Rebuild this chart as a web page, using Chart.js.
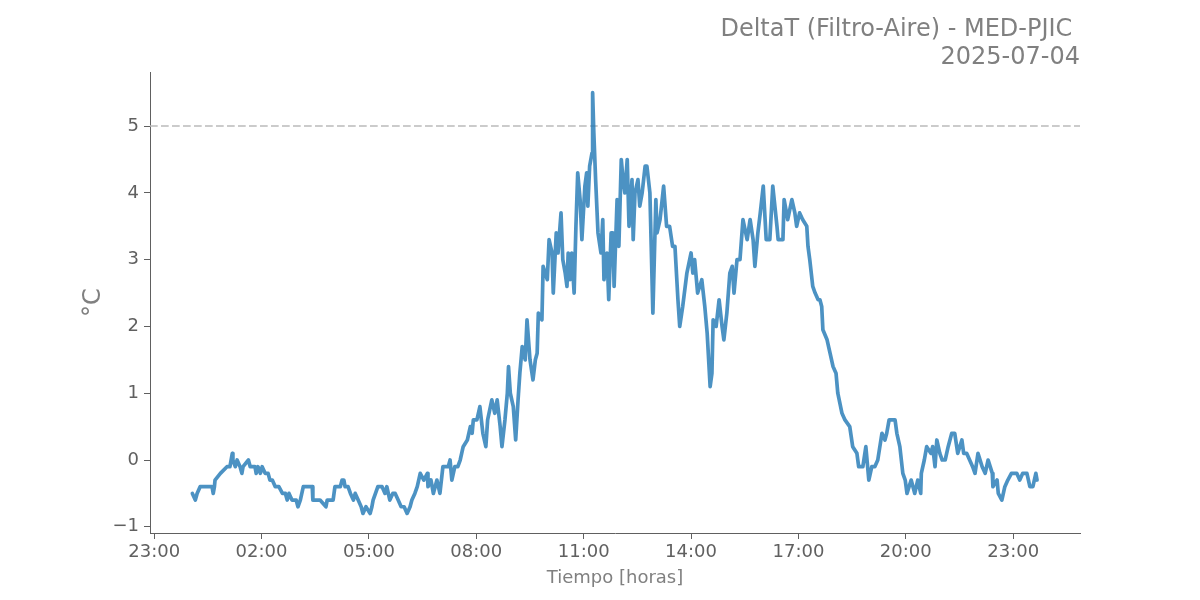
<!DOCTYPE html>
<html>
<head>
<meta charset="utf-8">
<script src="https://cdn.jsdelivr.net/npm/chart.js@4/dist/chart.umd.min.js"></script>
<style>
  html, body { margin: 0; padding: 0; background: #ffffff; }
  #wrap { width: 1200px; height: 600px; position: relative; }
</style>
</head>
<body>
<div id="wrap"><canvas id="c" width="1200" height="600"></canvas></div>
<script>
// ---- Data (minutes since midnight of 2025-07-04, DeltaT in °C) ----
const minutes = [
  4, 9, 12, 17, 37, 39, 41, 42, 51, 62, 67, 71, 72, 76, 79, 84, 87, 89, 98, 101,
  109, 111, 114, 118, 121, 126, 131, 134, 138, 143, 149, 155, 160, 163, 166, 171, 178, 181, 185, 190,
  196, 205, 206, 218, 228, 230, 240, 243, 252, 255, 258, 260, 265, 269, 274, 277, 282, 287, 290, 295,
  302, 305, 307, 315, 322, 327, 330, 335, 340, 344, 349, 354, 359, 364, 369, 372, 377, 381, 386, 392,
  398, 399, 404, 408, 414, 419, 424, 433, 436, 439, 444, 449, 453, 458, 465, 470, 473, 475, 481, 486,
  491, 496, 499, 506, 511, 515, 520, 523, 528, 532, 534, 537, 542, 546, 550, 553, 557, 562, 565, 570,
  575, 579, 582, 584, 590, 592, 599, 602, 607, 609, 614, 617, 622, 625, 629, 632, 634, 637, 640, 644,
  647, 650, 654, 657, 662, 665, 667, 670, 674, 675, 677, 680, 684, 689, 692, 694, 699, 702, 706, 709,
  711, 716, 719, 723, 726, 729, 733, 736, 741, 743, 746, 751, 754, 758, 763, 766, 771, 776, 781, 783,
  788, 794, 799, 804, 809, 813, 818, 821, 826, 833, 840, 843, 846, 851, 858, 863, 867, 872, 875, 877,
  882, 887, 892, 895, 900, 905, 909, 912, 917, 922, 927, 934, 939, 944, 947, 952, 956, 961, 966, 972,
  977, 984, 986, 994, 996, 1002, 1009, 1014, 1017, 1022, 1027, 1034, 1036, 1039, 1044, 1048, 1053, 1056, 1059, 1061,
  1068, 1073, 1078, 1083, 1086, 1093, 1098, 1106, 1111, 1118, 1121, 1128, 1133, 1138, 1143, 1148, 1153, 1160, 1165, 1168,
  1172, 1182, 1185, 1190, 1195, 1199, 1202, 1209, 1215, 1220, 1225, 1226, 1231, 1235, 1242, 1245, 1249, 1252, 1257, 1261,
  1266, 1271, 1277, 1282, 1287, 1294, 1297, 1302, 1307, 1312, 1316, 1321, 1328, 1333, 1338, 1345, 1346, 1353, 1355, 1361,
  1366, 1371, 1377, 1386, 1391, 1396, 1403, 1408, 1413, 1418, 1420
];
const deltaT = [
  -0.5, -0.6, -0.5, -0.4, -0.4, -0.5, -0.4, -0.3, -0.2, -0.1, -0.1, 0.1, 0.0, -0.1, 0.0, -0.1, -0.2, -0.1, 0.0, -0.1,
  -0.1, -0.2, -0.1, -0.2, -0.1, -0.2, -0.2, -0.3, -0.3, -0.4, -0.4, -0.5, -0.5, -0.6, -0.5, -0.6, -0.6, -0.7, -0.6, -0.4,
  -0.4, -0.4, -0.6, -0.6, -0.7, -0.6, -0.6, -0.4, -0.4, -0.3, -0.3, -0.4, -0.4, -0.5, -0.6, -0.5, -0.6, -0.7, -0.8, -0.7,
  -0.8, -0.7, -0.6, -0.4, -0.4, -0.5, -0.4, -0.6, -0.5, -0.5, -0.6, -0.7, -0.7, -0.8, -0.7, -0.6, -0.5, -0.4, -0.2, -0.3,
  -0.2, -0.4, -0.3, -0.5, -0.3, -0.5, -0.1, -0.1, 0.0, -0.3, -0.1, -0.1, 0.0, 0.2, 0.3, 0.5, 0.4, 0.6, 0.6, 0.8,
  0.4, 0.2, 0.6, 0.9, 0.7, 0.9, 0.5, 0.2, 0.6, 1.0, 1.4, 1.0, 0.8, 0.3, 0.9, 1.3, 1.7, 1.5, 2.1, 1.5,
  1.2, 1.5, 1.6, 2.2, 2.1, 2.9, 2.7, 3.3, 3.1, 2.5, 3.4, 3.1, 3.7, 3.0, 2.8, 2.6, 3.1, 2.7, 3.1, 2.5,
  3.5, 4.3, 3.9, 3.3, 4.1, 4.3, 3.8, 4.4, 4.6, 5.5, 4.9, 4.2, 3.4, 3.1, 3.6, 2.7, 3.1, 2.4, 3.4, 3.4,
  2.6, 3.9, 3.2, 4.5, 4.2, 4.0, 4.5, 3.5, 4.2, 3.3, 4.0, 4.2, 3.8, 4.0, 4.4, 4.4, 4.0, 2.2, 3.9, 3.4,
  3.6, 4.1, 3.5, 3.5, 3.2, 3.2, 2.4, 2.0, 2.3, 2.8, 3.1, 2.8, 3.0, 2.5, 2.7, 2.3, 1.9, 1.1, 1.3, 2.1,
  2.0, 2.4, 2.0, 1.8, 2.2, 2.8, 2.9, 2.5, 3.0, 3.0, 3.6, 3.3, 3.6, 3.3, 2.9, 3.4, 3.7, 4.1, 3.3, 3.3,
  4.1, 3.5, 3.3, 3.3, 3.9, 3.6, 3.9, 3.7, 3.5, 3.7, 3.6, 3.5, 3.2, 3.0, 2.6, 2.5, 2.4, 2.4, 2.3, 1.95,
  1.8, 1.6, 1.4, 1.3, 1.0, 0.7, 0.6, 0.5, 0.2, 0.1, -0.1, -0.1, 0.2, -0.3, -0.1, -0.1, 0.0, 0.4, 0.3, 0.4,
  0.6, 0.6, 0.4, 0.2, -0.2, -0.3, -0.5, -0.3, -0.5, -0.3, -0.5, -0.2, 0.0, 0.2, 0.1, 0.2, -0.1, 0.3, 0.1, 0.0,
  0.0, 0.2, 0.4, 0.4, 0.1, 0.3, 0.1, 0.1, 0.0, -0.1, -0.2, 0.1, -0.1, -0.2, 0.0, -0.2, -0.4, -0.3, -0.5, -0.6,
  -0.4, -0.3, -0.2, -0.2, -0.3, -0.2, -0.2, -0.4, -0.4, -0.2, -0.3
];
const xTickMinutes = [-60, 120, 300, 480, 660, 840, 1020, 1200, 1380];
const yTicks = [-1, 0, 1, 2, 3, 4, 5];
const threshold = 5;
const titleLines = ['DeltaT (Filtro-Aire) - MED-PJIC ', '2025-07-04'];
const xTitle = 'Tiempo [horas]';
const yTitle = '°C';

const X_MIN = -67, X_MAX = 1492;
const Y_MIN = -1.093, Y_MAX = 5.81;

const seriesPts = minutes.map((m, i) => ({ x: m, y: deltaT[i] }));
const threshPts = [{ x: X_MIN, y: threshold }, { x: X_MAX, y: threshold }];

const FONT = "'DejaVu Sans', sans-serif";
const TICK_COLOR = '#606060';
const AXIS_COLOR = '#606060';
const TITLE_COLOR = '#808080';

function fmtTime(m) {
  let h = Math.round(m / 60);
  h = ((h % 24) + 24) % 24;
  return (h < 10 ? '0' : '') + h + ':00';
}

new Chart(document.getElementById('c'), {
  type: 'line',
  data: {
    datasets: [
      {
        data: threshPts,
        borderColor: '#bbbbbb',
        borderWidth: 1.5,
        borderDash: [7.7, 3.3],
        pointRadius: 0,
        fill: false,
        tension: 0,
        order: 2
      },
      {
        data: seriesPts,
        borderColor: 'rgba(31,119,180,0.8)',
        borderWidth: 3.7,
        borderJoinStyle: 'round',
        borderCapStyle: 'round',
        pointRadius: 0,
        fill: false,
        tension: 0,
        order: 1
      }
    ]
  },
  options: {
    responsive: false,
    animation: false,
    events: [],
    layout: { padding: { left: 0, right: 120, top: 0, bottom: 0 } },
    plugins: {
      legend: { display: false },
      tooltip: { enabled: false },
      title: {
        display: true,
        text: titleLines,
        align: 'end',
        color: TITLE_COLOR,
        font: { family: FONT, size: 24, weight: 'normal', lineHeight: 1.167 },
        padding: { top: 16, bottom: 0 }
      }
    },
    scales: {
      x: {
        type: 'linear',
        min: X_MIN,
        max: X_MAX,
        afterBuildTicks: (s) => { s.ticks = xTickMinutes.map(v => ({ value: v })); },
        afterFit: (s) => { s.height = 67; },
        ticks: {
          color: TICK_COLOR,
          font: { family: FONT, size: 18 },
          padding: 3,
          maxRotation: 0,
          autoSkip: false,
          callback: (v) => fmtTime(v)
        },
        grid: { display: true, drawOnChartArea: false, drawTicks: true, tickLength: 6, color: AXIS_COLOR, lineWidth: 1 },
        border: { display: true, color: AXIS_COLOR, width: 1 },
        title: {
          display: true,
          text: xTitle,
          color: TITLE_COLOR,
          font: { family: FONT, size: 18 },
          padding: { top: 0, bottom: 11 }
        }
      },
      y: {
        type: 'linear',
        min: Y_MIN,
        max: Y_MAX,
        afterBuildTicks: (s) => { s.ticks = yTicks.map(v => ({ value: v })); },
        afterFit: (s) => { s.width = 150; },
        ticks: {
          color: TICK_COLOR,
          font: { family: FONT, size: 18 },
          padding: 5,
          callback: (v) => (v < 0 ? '\u2212' + Math.abs(v) : String(v))
        },
        grid: { display: true, drawOnChartArea: false, drawTicks: true, tickLength: 6, color: AXIS_COLOR, lineWidth: 1 },
        border: { display: true, color: AXIS_COLOR, width: 1 },
        title: {
          display: true,
          text: yTitle,
          color: TITLE_COLOR,
          font: { family: FONT, size: 24 },
          padding: { top: 79, bottom: 0 }
        }
      }
    }
  }
});
</script>
</body>
</html>
